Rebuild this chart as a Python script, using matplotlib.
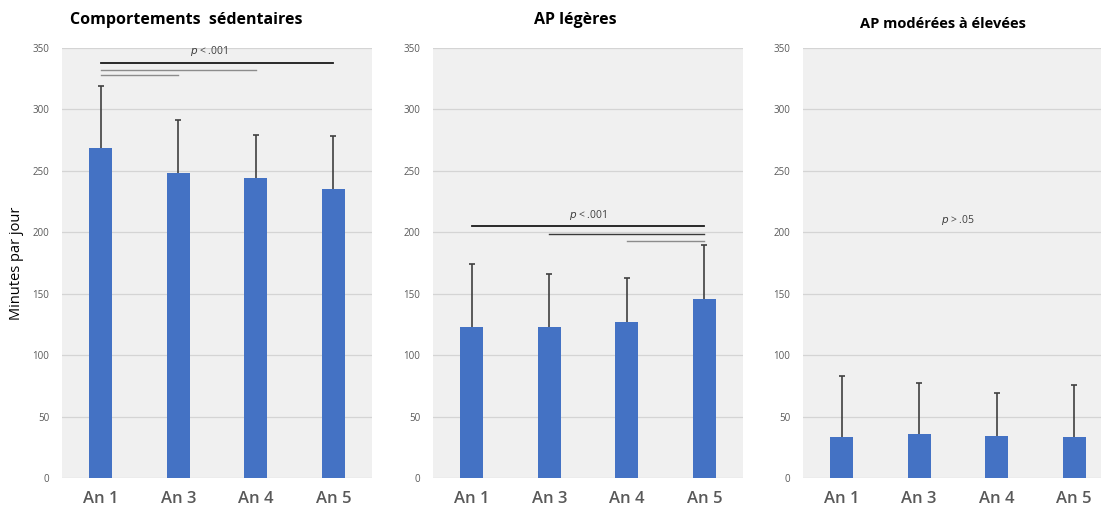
import numpy as np
import matplotlib.pyplot as plt

# Données : moyennes et écarts-types (minutes par jour)
annees = ['An 1', 'An 3', 'An 4', 'An 5']

sed_moy = [269, 248, 244, 235]
sed_et = [50, 43, 35, 43]

leg_moy = [123, 123, 127, 146]
leg_et = [51, 43, 36, 44]

mod_moy = [33, 35.5, 34, 33]
mod_et = [50, 42, 35, 43]

titres = ['Comportements  sédentaires', 'AP légères', 'AP modérées à élevées']

# Comparaisons significatives : (début, fin, hauteur, couleur)
sed_comp = [(0, 3, 338, '#1a1a1a'), (0, 2, 332, '#8c8c8c'), (0, 1, 328, '#8c8c8c')]
leg_comp = [(0, 3, 205, '#1a1a1a'), (1, 3, 199, '#3a3a3a'), (2, 3, 193, '#8c8c8c')]

plt.rcParams['font.family'] = ['Open Sans', 'DejaVu Sans']

fig = plt.figure(figsize=(11.01, 5.15), dpi=100)
gauches = [0.0563, 0.3933, 0.7293]
axes = [fig.add_axes([g, 0.0718, 0.2816, 0.835]) for g in gauches]

donnees = [(sed_moy, sed_et), (leg_moy, leg_et), (mod_moy, mod_et)]
x = np.arange(len(annees))

for ax, (moy, et) in zip(axes, donnees):
    ax.set_facecolor('#f0f0f0')
    ax.bar(x, moy, width=0.3, color='#4472c4', zorder=3)
    eb = ax.errorbar(x, moy, yerr=[np.zeros(len(et)), et], fmt='none',
                     ecolor='#404040', elinewidth=1.2, capsize=2.5, capthick=1.2, zorder=4)
    # barre d'erreur vers le haut seulement : pas de trait au bas
    eb[1][0].set_visible(False)
    ax.set_xlim(-0.5, 3.5)
    ax.set_ylim(0, 350)
    ax.set_yticks(range(0, 351, 50))
    ax.yaxis.grid(True, color='#d4d4d4', linewidth=0.9, zorder=0)
    ax.set_xticks(x)
    ax.set_xticklabels(annees, fontsize=12, fontweight='semibold', color='#595959')
    ax.tick_params(axis='y', labelsize=7, colors='#595959', length=0, pad=9)
    ax.tick_params(axis='x', length=0, pad=9)
    for s in ax.spines.values():
        s.set_visible(False)

# titres légèrement décalés vers la gauche
axes[0].text(0.40, 1.065, titres[0], transform=axes[0].transAxes, ha='center',
             va='center', fontsize=11.5, fontweight='bold')
axes[1].text(0.46, 1.065, titres[1], transform=axes[1].transAxes, ha='center',
             va='center', fontsize=11.5, fontweight='bold')
axes[2].text(0.45, 1.055, titres[2], transform=axes[2].transAxes, ha='center',
             va='center', fontsize=10.5, fontweight='bold')

axes[0].set_ylabel('Minutes par jour', fontsize=10.5, labelpad=6)

for ax, comps in [(axes[0], sed_comp), (axes[1], leg_comp)]:
    for a, b, h, c in comps:
        ax.plot([a, b], [h, h], color=c, linewidth=1.3 if c == '#1a1a1a' else 1.0, zorder=5)

axes[0].text(1.4, 342, r'$p$ < .001', ha='center', va='bottom', fontsize=7.5, color='#404040')
axes[1].text(1.5, 208, r'$p$ < .001', ha='center', va='bottom', fontsize=7.5, color='#404040')
axes[2].text(1.5, 210, r'$p$ > .05', ha='center', va='center', fontsize=7.5, color='#404040')

fig.savefig('out.png', dpi=100)
